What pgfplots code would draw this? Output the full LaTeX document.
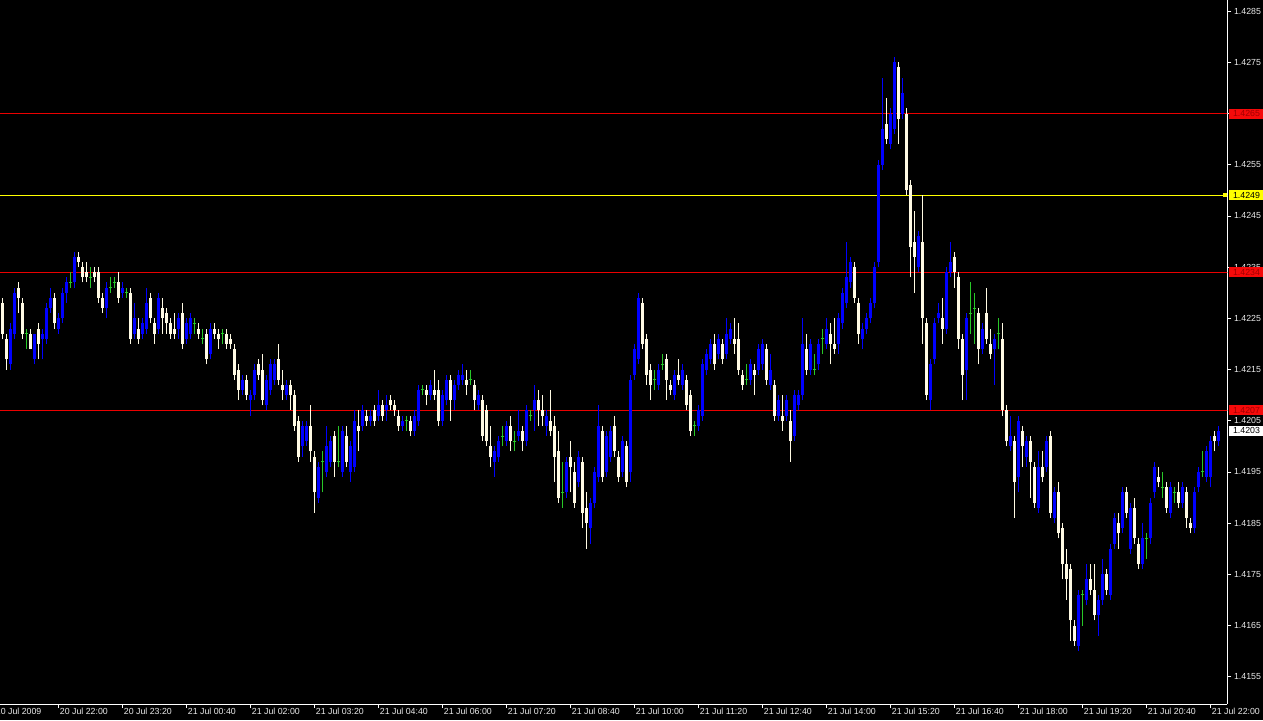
\documentclass[border=0pt]{standalone}
\usepackage{pgfplots}
\usepackage{pgfplotstable}
\pgfplotsset{compat=1.18}
\usepackage{fontspec}
\setmainfont{Liberation Sans}
\newcommand{\lbl}{\fontsize{8.8}{10}\selectfont}
\definecolor{bullblue}{RGB}{0,0,255}
\definecolor{bearcream}{RGB}{255,250,228}
\definecolor{dojigreen}{RGB}{40,200,40}
\definecolor{hred}{RGB}{235,0,0}
\definecolor{boxred}{RGB}{245,10,10}
\definecolor{boxredtext}{RGB}{160,0,0}
\definecolor{hyellow}{RGB}{255,255,0}
\definecolor{ticktext}{RGB}{235,235,235}

% prices are given in pips above 1.4000 (e.g. 203 = 1.4203); bar index n = 5-minute bars
\pgfplotstableread{
n o h l c
2 216 224 215 223
3 222 231 221 230
8 217 222 216 222
10 221 223 217 222
11 221 228 220 227
12 227 231 226 229
14 223 226 222 225
15 225 231 224 230
16 230 233 228 232
18 232 238 231 237
26 227 232 225 231
30 230 232 229 231
33 222 228 221 225
35 222 225 221 224
36 223 231 222 228
39 223 230 222 229
44 223 226 221 225
46 221 225 220 224
47 222 226 221 225
52 218 224 217 223
60 211 214 210 213
62 209 211 206 210
63 210 216 209 215
66 208 214 207 213
67 211 217 210 216
68 213 217 212 216
71 210 213 209 212
75 200 205 198 204
76 201 205 200 204
79 190 197 189 196
81 195 204 194 200
82 197 202 196 201
85 195 204 194 203
87 195 201 193 200
88 196 207 195 205
90 204 208 203 207
92 205 207 204 206
94 206 211 205 208
96 207 210 205 208
100 204 206 203 205
103 203 207 202 206
104 205 212 204 211
107 210 213 209 212
110 205 211 204 210
111 209 214 208 213
113 209 213 207 212
114 212 215 211 214
115 213 216 212 214
119 208 211 207 210
123 197 200 194 199
124 198 202 197 201
126 201 205 200 204
129 202 207 201 203
131 201 208 200 207
133 207 212 203 209
136 204 207 202 206
141 191 198 190 197
144 193 199 192 198
147 184 190 181 189
148 189 196 188 195
149 194 208 193 204
151 195 203 194 202
152 198 204 197 203
155 195 202 194 201
157 195 214 193 213
158 214 220 213 219
159 217 230 216 229
164 212 216 211 215
168 210 215 209 214
170 212 216 211 215
174 204 208 203 207
175 206 217 205 216
176 215 219 214 218
177 217 221 216 220
179 218 222 217 221
181 218 225 217 222
182 221 224 220 223
187 213 217 212 216
189 215 220 214 219
190 216 221 215 220
192 212 218 211 215
194 206 210 205 209
196 206 210 205 209
198 202 211 201 210
199 208 211 207 210
200 210 225 209 220
202 215 221 214 220
204 216 221 215 220
206 220 225 219 223
209 220 226 218 225
210 224 231 223 230
211 228 240 227 233
212 232 237 231 236
215 221 224 219 223
216 223 226 222 225
217 225 229 224 228
218 228 236 227 235
219 236 256 235 255
220 255 272 254 262
222 259 266 258 265
223 262 276 261 275
225 265 272 264 269
229 235 242 234 241
232 209 217 207 216
233 217 225 216 224
234 225 228 224 226
236 223 235 222 234
237 234 240 233 236
241 215 226 209 225
245 219 224 218 223
248 219 222 212 221
252 200 206 199 202
254 194 206 191 205
256 198 202 196 201
259 188 199 187 196
261 196 202 195 201
263 186 192 185 191
269 161 172 160 171
271 170 177 169 174
274 167 171 163 170
275 170 178 169 175
277 171 181 170 180
278 181 187 180 186
280 184 192 183 191
282 180 189 179 188
285 177 185 176 182
287 182 190 181 189
288 191 197 190 196
292 187 193 186 192
295 189 193 188 192
298 184 192 183 191
299 192 196 191 195
301 194 200 193 199
302 194 202 192 201
304 201 204 200 203
}\bull

\pgfplotstableread{
n o h l c
0 228 229 221 222
1 221 222 215 217
4 231 232 226 229
5 228 229 221 222
7 222 223 219 219
9 223 224 217 220
13 229 230 223 224
19 237 238 235 236
20 235 236 232 233
21 234 236 232 233
23 234 235 232 233
24 234 235 228 229
25 229 230 226 227
29 232 234 228 229
32 230 231 220 221
34 223 225 220 221
37 229 230 224 225
38 224 225 220 222
40 227 229 222 225
41 226 227 222 224
42 224 225 221 222
43 223 226 221 222
45 226 228 219 220
49 223 224 221 222
51 222 223 216 217
53 223 224 221 222
54 222 223 219 221
56 222 223 219 220
57 221 222 219 220
58 219 220 213 214
59 215 216 209 211
61 213 214 209 210
64 216 217 213 214
65 215 218 208 209
69 217 220 212 213
70 212 215 209 211
72 212 213 207 210
73 210 211 203 204
74 205 206 197 198
77 204 208 197 199
78 198 199 187 191
83 202 203 194 197
86 202 204 196 197
89 204 207 199 203
91 206 207 204 205
93 207 208 204 205
95 208 209 205 206
97 209 210 207 208
98 208 209 206 207
99 206 207 203 204
102 205 206 202 203
106 211 212 208 210
108 211 215 209 210
109 211 213 204 205
112 213 214 205 209
116 213 215 210 212
118 212 213 207 209
120 209 210 201 202
121 207 208 200 201
122 200 204 196 198
127 204 206 199 201
130 203 204 199 201
134 209 211 204 207
135 207 210 204 206
137 205 211 202 203
138 204 206 193 198
139 199 203 189 190
142 198 201 191 196
143 195 197 188 189
145 197 198 184 187
146 188 191 180 185
150 203 204 193 194
153 204 206 198 199
154 198 199 193 194
156 200 201 192 193
160 228 229 219 220
161 221 222 212 214
162 215 216 209 212
166 217 218 209 213
167 212 213 210 211
169 214 217 212 213
171 213 214 207 208
172 210 211 202 203
178 220 222 215 216
180 220 221 216 217
183 221 225 218 220
184 221 224 214 215
185 214 215 211 212
188 215 216 210 214
191 219 220 212 213
193 212 213 205 206
195 206 210 203 205
197 205 207 197 201
201 219 222 214 215
207 222 224 216 220
208 220 225 218 219
213 235 236 228 229
214 228 229 220 222
221 263 268 259 260
224 274 275 259 264
226 265 266 249 250
227 251 252 233 239
228 240 246 230 237
230 240 249 220 225
231 224 225 209 210
235 225 229 220 223
238 237 238 231 234
239 233 234 219 221
240 221 222 209 214
244 226 227 216 219
246 226 231 220 221
247 220 223 217 218
250 221 224 206 207
251 207 208 200 201
253 201 202 186 193
255 203 204 196 200
257 201 202 190 197
258 196 197 188 189
260 196 199 193 194
262 202 203 186 187
264 191 193 182 183
265 184 185 174 177
266 177 180 170 174
267 176 177 162 166
268 165 166 161 162
272 174 177 171 172
273 172 177 166 167
276 175 176 171 172
279 185 187 180 183
281 191 192 186 187
283 188 190 181 182
284 181 182 176 177
289 194 196 192 193
291 192 193 187 188
294 191 193 188 189
296 191 192 184 186
297 185 186 183 184
303 202 203 199 201
}\bear

\pgfplotstableread{
n o h l
6 222 223 219
17 232 234 231
22 233 235 231
27 231 233 230
28 232 233 231
31 230 231 229
48 224 225 222
50 221 223 220
55 222 223 220
80 197 199 191
84 197 204 196
101 205 206 203
105 211 212 210
117 213 215 212
125 202 204 200
128 201 203 199
132 206 207 205
140 191 197 188
163 213 215 211
165 216 218 215
173 204 205 202
186 213 216 212
203 215 218 214
205 221 223 218
242 226 232 222
243 227 230 220
249 222 225 219
270 171 172 165
286 182 183 178
290 192 195 190
293 191 192 189
300 195 199 194
}\doji

\begin{document}
\begin{tikzpicture}
\useasboundingbox (0,0) rectangle (1263pt,720pt);
\clip (0,0) rectangle (1263pt,720pt);
\fill[black] (0,0) rectangle (1263pt,720pt);
\begin{axis}[
  at={(0pt,16pt)}, anchor=south west,
  width=1227.3pt, height=704pt, scale only axis,
  xmin=-0.675, xmax=306.15, ymin=149.67, ymax=287.17,
  axis x line*=bottom, axis y line*=right,
  axis line style={white, line width=1pt, -},
  clip mode=individual,
  tick align=outside, major tick length=4pt,
  tick style={white, line width=0.8pt},
  every tick label/.append style={font=\lbl, text=ticktext},
  xtick={14,30,...,302},
  xticklabels={20 Jul 22:00,20 Jul 23:20,21 Jul 00:40,21 Jul 02:00,21 Jul 03:20,21 Jul 04:40,21 Jul 06:00,21 Jul 07:20,21 Jul 08:40,21 Jul 10:00,21 Jul 11:20,21 Jul 12:40,21 Jul 14:00,21 Jul 15:20,21 Jul 16:40,21 Jul 18:00,21 Jul 19:20,21 Jul 20:40,21 Jul 22:00},
  xticklabel style={anchor=north west, inner sep=0pt, xshift=1pt},
  ytick={155,165,...,285},
  yticklabels={1.4155,1.4165,1.4175,1.4185,1.4195,1.4205,1.4215,1.4225,1.4235,1.4245,1.4255,1.4265,1.4275,1.4285},
  yticklabel style={anchor=west, inner sep=0pt, xshift=2.5pt},
]
% horizontal price levels
\addplot[hred, line width=1.3pt, forget plot] coordinates {(-1,265) (307,265)};
\addplot[hyellow, line width=1.3pt, forget plot] coordinates {(-1,249) (307,249)};
\addplot[hred, line width=1.3pt, forget plot] coordinates {(-1,234) (307,234)};
\addplot[hred, line width=1.3pt, forget plot] coordinates {(-1,207) (307,207)};
% bull candles
\addplot[draw=none, forget plot, error bars/.cd, y dir=plus, y explicit, error mark=none,
  error bar style={draw=bullblue, line width=1pt}]
  table[x=n, y=l, y error plus expr=\thisrow{h}-\thisrow{l}] {\bull};
\addplot[draw=none, forget plot, error bars/.cd, y dir=plus, y explicit, error mark=none,
  error bar style={draw=bullblue, line width=3pt}]
  table[x=n, y=o, y error plus expr=\thisrow{c}-\thisrow{o}] {\bull};
% bear candles
\addplot[draw=none, forget plot, error bars/.cd, y dir=plus, y explicit, error mark=none,
  error bar style={draw=bearcream, line width=1pt}]
  table[x=n, y=l, y error plus expr=\thisrow{h}-\thisrow{l}] {\bear};
\addplot[draw=none, forget plot, error bars/.cd, y dir=plus, y explicit, error mark=none,
  error bar style={draw=bearcream, line width=3pt}]
  table[x=n, y=c, y error plus expr=\thisrow{o}-\thisrow{c}] {\bear};
% doji
\addplot[draw=none, forget plot, error bars/.cd, y dir=plus, y explicit, error mark=none,
  error bar style={draw=dojigreen, line width=1pt}]
  table[x=n, y=l, y error plus expr=\thisrow{h}-\thisrow{l}] {\doji};
\addplot[only marks, mark=-, mark size=1.6pt, dojigreen, mark options={line width=1pt}, forget plot]
  table[x=n, y=o] {\doji};
\node[anchor=north west, inner sep=0pt, font=\lbl, text=ticktext] at (axis cs:-1.75,149.67) [yshift=-4pt] {20 Jul 2009};
\coordinate (r265) at (axis cs:306.15,265);
\coordinate (r249) at (axis cs:306.15,249);
\coordinate (r234) at (axis cs:306.15,234);
\coordinate (r207) at (axis cs:306.15,207);
\coordinate (r203) at (axis cs:306.15,203);
\end{axis}
\node[fill=boxred, text=boxredtext, anchor=west, inner sep=0pt, minimum height=10pt, minimum width=35pt, font=\lbl, xshift=1.5pt] at (r265) {1.4265};
\node[fill=hyellow, text=black, anchor=west, inner sep=0pt, minimum height=10pt, minimum width=35pt, font=\lbl, xshift=1.5pt] at (r249) {1.4249};
\node[fill=hyellow, inner sep=0pt, minimum size=4pt, anchor=east, xshift=-0.5pt] at (r249) {};
\node[fill=boxred, text=boxredtext, anchor=west, inner sep=0pt, minimum height=10pt, minimum width=35pt, font=\lbl, xshift=1.5pt] at (r234) {1.4234};
\node[fill=boxred, text=boxredtext, anchor=west, inner sep=0pt, minimum height=10pt, minimum width=35pt, font=\lbl, xshift=1.5pt] at (r207) {1.4207};
\node[fill=white, text=black, anchor=west, inner sep=0pt, minimum height=10pt, minimum width=35pt, font=\lbl, xshift=1.5pt] at (r203) {1.4203};
\end{tikzpicture}
\end{document}
